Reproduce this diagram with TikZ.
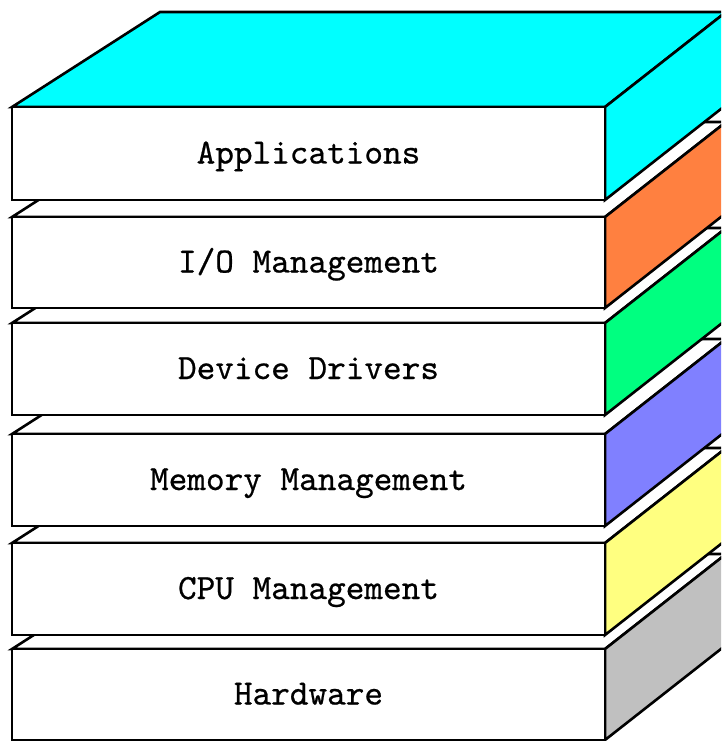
\documentclass[tikz,border=0pt]{standalone}
\usepackage{fontspec}
\newfontfamily\layerfont[FakeBold=0.6]{lmmono10-regular.otf}
\definecolor{appcyan}{HTML}{00FFFF}
\definecolor{ioorange}{HTML}{FF8040}
\definecolor{drvgreen}{HTML}{00FF80}
\definecolor{memblue}{HTML}{8080FF}
\definecolor{cpuyellow}{HTML}{FFFF80}
\definecolor{hwgray}{HTML}{C0C0C0}
% One layer of the stack: #1 top of front face, #2 bottom of front face,
% #3 colour of the top face, #4 colour of the side face, #5 node name, #6 text
\newcommand\stacklayer[6]{%
  \draw[face,fill=#3] (12,#1) -- (160,#1-95) -- (726,#1-95) -- (605,#1) -- cycle;
  \draw[face,fill=#4] (605,#1) -- (726,#1-95) -- (726,#2-95) -- (605,#2) -- cycle;
  \draw[face,fill=white] (12,#1) rectangle (605,#2);
  \node[layertext] (#5) at (308.5,{(#1+#2)/2+10}) {#6};
}
\begin{document}
\begin{tikzpicture}[x=1pt,y=-1pt,
  face/.style={draw=black,line width=2.6pt,line join=miter},
  layertext/.style={font=\layerfont\fontsize{35.5}{36}\selectfont,anchor=base,inner sep=0pt}]
\useasboundingbox (0,0) rectangle (721,741);
\fill[white] (0,0) rectangle (721,741);
\clip (0,0) rectangle (721,741);
% drawn from the bottom up so each layer covers the one below it
\stacklayer{649}{740}{white}{hwgray}{hw}{Hardware}
\stacklayer{543}{635}{white}{cpuyellow}{cpu}{CPU Management}
\stacklayer{434}{526}{white}{memblue}{mem}{Memory Management}
\stacklayer{323}{415}{white}{drvgreen}{drv}{Device Drivers}
\stacklayer{217}{308}{white}{ioorange}{io}{I/O Management}
\stacklayer{107}{200}{appcyan}{appcyan}{app}{Applications}
\end{tikzpicture}
\end{document}
